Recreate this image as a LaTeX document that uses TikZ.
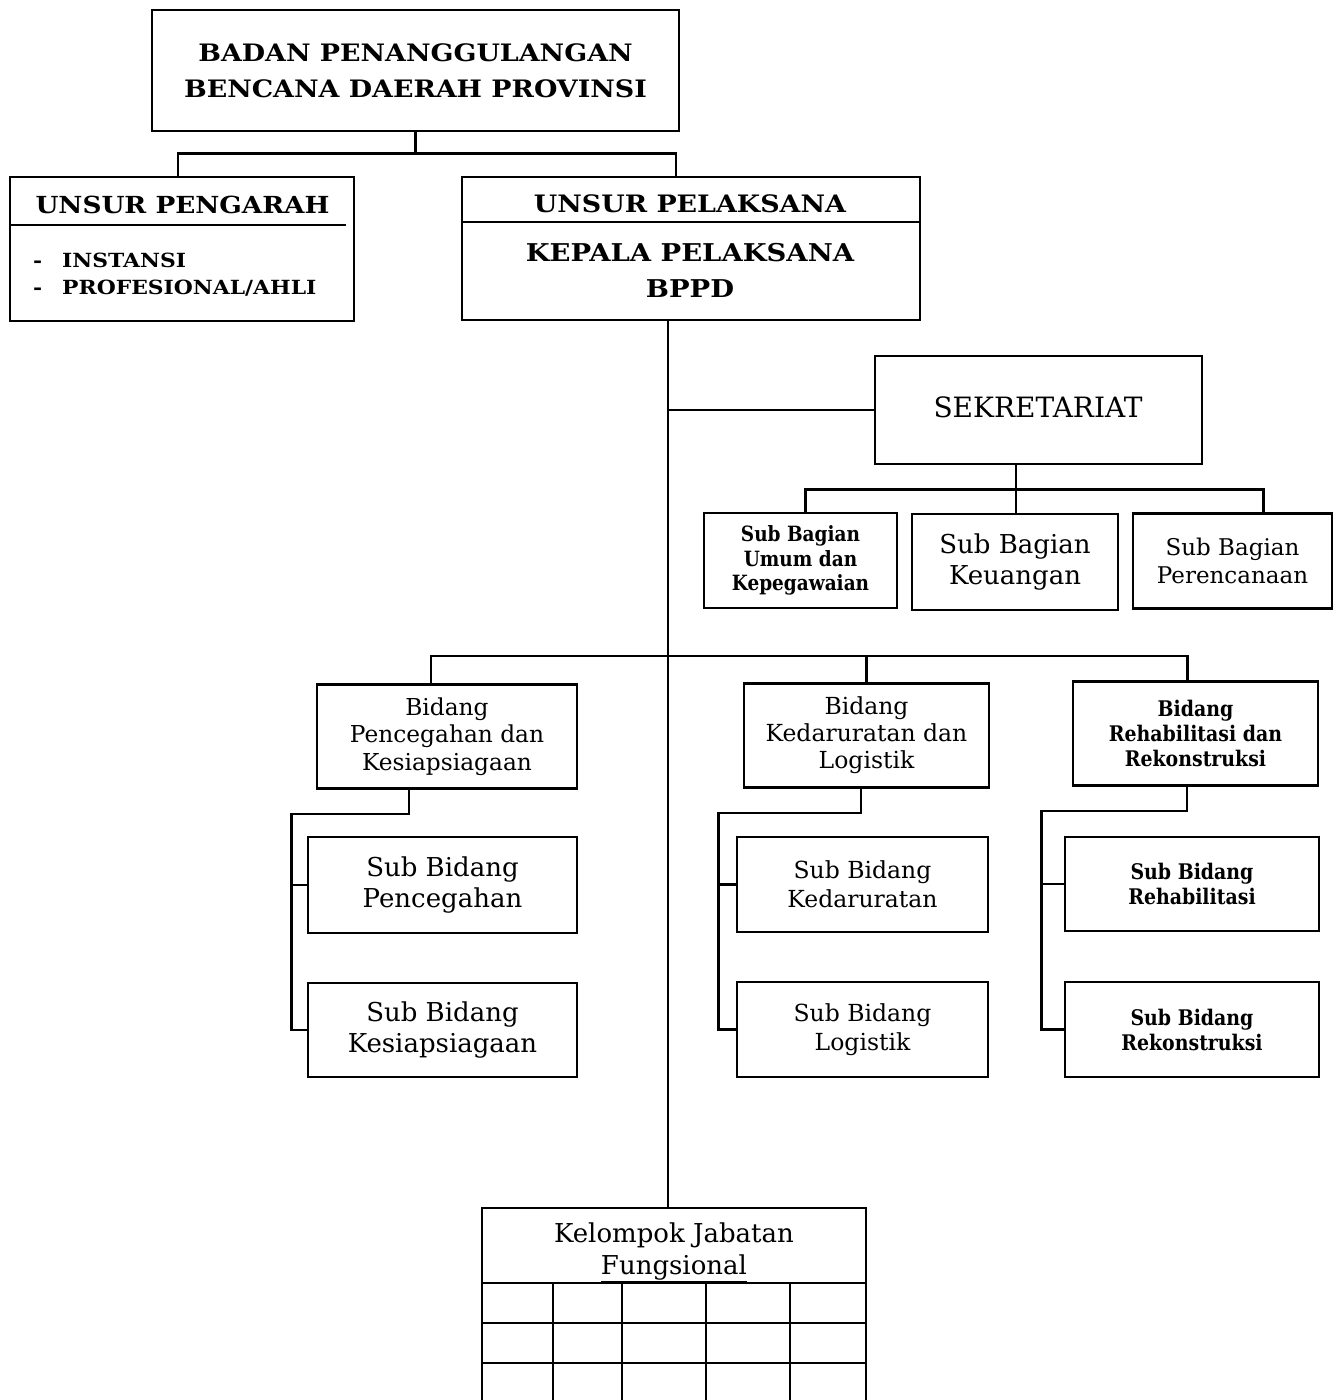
\documentclass[tikz,border=0pt]{standalone}
\usepackage{fontspec}
\setmainfont{DejaVu Serif}
\newfontfamily\condf[FakeStretch=0.88]{DejaVu Serif}
\newfontfamily\widef[FakeStretch=1.12]{DejaVu Serif}
\usetikzlibrary{calc}
\newcommand\fs[2]{\fontsize{#1}{#2}\selectfont}
\begin{document}
\begin{tikzpicture}[x=1pt,y=-1pt,
  box/.style={draw, line width=2.8pt, inner sep=0pt, align=center},
  conn/.style={line width=2.4pt},
  spine/.style={line width=1.6pt},
  txt/.style={inner sep=0pt, align=center},
  grid/.style={line width=2.4pt}
]
\useasboundingbox (0,0) rectangle (1334,1400);
\fill[white] (0,0) rectangle (1334,1400);

% top
\node[box, minimum width=527pt, minimum height=121pt, font={\widef\bfseries\fs{24}{36}}] (top) at (415.5,70.5)
  {BADAN PENANGGULANGAN\\BENCANA DAERAH PROVINSI};

% unsur pengarah
\node[box, minimum width=344pt, minimum height=144pt] (peng) at (182,249) {};
\node[txt, font={\widef\bfseries\fs{23.5}{30}}] (pengT) at (182.5,205) {UNSUR PENGARAH};
\draw[line width=2.8pt] (peng.west |- 0,225) coordinate (pengL) -- ++(337,0) coordinate (pengR);
\node[txt, anchor=west, font={\widef\bfseries\fs{19.5}{24}}] (i1) at (33,260) {\makebox[29pt][l]{-}INSTANSI};
\node[txt, anchor=west, font={\widef\bfseries\fs{19.5}{24}}] (i2) at (33,288) {\makebox[29pt][l]{-}PROFESIONAL/AHLI};

% unsur pelaksana
\node[box, minimum width=458pt, minimum height=143pt] (pel) at (691,248.5) {};
\node[txt, font={\widef\bfseries\fs{24}{30}}] (pelT) at (690,204) {UNSUR PELAKSANA};
\draw[line width=2.8pt] (pel.west |- 0,222) coordinate (pelL) -- (pel.east |- 0,222) coordinate (pelR);
\node[txt, font={\widef\bfseries\fs{24.5}{36}}] (kep) at (690,270) {KEPALA PELAKSANA\\BPPD};

% connectors top
\draw[conn] (top.south) -- ++(0,21) coordinate (j1);
\draw[conn] ([xshift=-4pt]peng.north) |- (j1) -| ([xshift=-15pt]pel.north);

% spine
\coordinate (sp) at ([xshift=-23pt]pel.south);

% kelompok
\node[box, minimum width=384pt, minimum height=75pt] (kel) at (674,1245.5) {};
\node[txt, font={\fs{26}{32}}] (kelT) at (674,1252) {Kelompok Jabatan\\\underline{Fungsional}};
\draw[spine] (sp) -- (sp |- kel.north);

% sekretariat
\node[box, minimum width=327pt, minimum height=108pt] (sek) at (1038.5,410) {};
\node[txt, font={\fs{28}{30}}] (sekT) at (1038,407) {SEKRETARIAT};
\draw[conn] (sek.west) -- (sek.west -| sp);

% sub bagian
\node[box, minimum width=193pt, minimum height=95pt, font={\condf\bfseries\fs{21}{24.5}}] (sb1) at (800.5,560.5)
  {Sub Bagian\\Umum dan\\Kepegawaian};
\node[box, minimum width=206pt, minimum height=96pt, font={\fs{26}{31}}] (sb2) at (1015,562)
  {Sub Bagian\\Keuangan};
\node[box, minimum width=199pt, minimum height=95pt, font={\fs{23}{28}}] (sb3) at (1232.5,561)
  {Sub Bagian\\Perencanaan};
\draw[conn] ([xshift=1pt]sb2.north |- sek.south) coordinate (s0) -- ++(0,24) coordinate (j2);
\draw[conn] ([xshift=5pt]sb1.north) |- (j2) -| ([xshift=31pt]sb3.north);
\draw[conn] (j2) -- (j2 |- sb2.north);

% bidang
\node[box, minimum width=260pt, minimum height=104pt, font={\fs{23.3}{27.5}}] (bd1) at (447,736.5)
  {Bidang\\Pencegahan dan\\Kesiapsiagaan};
\node[box, minimum width=245pt, minimum height=104pt, font={\fs{23.5}{27}}] (bd2) at (866.5,735.5)
  {Bidang\\Kedaruratan dan\\Logistik};
\node[box, minimum width=245pt, minimum height=104pt, font={\condf\bfseries\fs{21.5}{25}}] (bd3) at (1195.5,733.5)
  {Bidang\\Rehabilitasi dan\\Rekonstruksi};
\coordinate (j3) at ($(bd2.north)+(0,-26)$);
\draw[conn] ([xshift=-16pt]bd1.north) |- (j3) -| ([xshift=-8pt]bd3.north);
\draw[conn] (j3) -- (bd2.north);

% sub bidang
\node[box, minimum width=269pt, minimum height=96pt, font={\fs{26}{31}}] (s11) at (442.5,885) {Sub Bidang\\Pencegahan};
\node[box, minimum width=269pt, minimum height=94pt, font={\fs{26}{31}}] (s12) at (442.5,1030) {Sub Bidang\\Kesiapsiagaan};
\node[box, minimum width=251pt, minimum height=95pt, font={\fs{23.5}{29}}] (s21) at (862.5,884.5) {Sub Bidang\\Kedaruratan};
\node[box, minimum width=251pt, minimum height=95pt, font={\fs{23.5}{29}}] (s22) at (862.5,1029.5) {Sub Bidang\\Logistik};
\node[box, minimum width=254pt, minimum height=94pt, font={\condf\bfseries\fs{21.5}{24.5}}] (s31) at (1192,884) {Sub Bidang\\Rehabilitasi};
\node[box, minimum width=254pt, minimum height=95pt, font={\condf\bfseries\fs{21.5}{25}}] (s32) at (1192,1029.5) {Sub Bidang\\Rekonstruksi};

\draw[conn] ([xshift=-38pt]bd1.south) -- ++(0,24) -| ([xshift=-15pt]s12.west) -- (s12.west);
\draw[conn] (s11.west) -- ++(-15,0);
\draw[conn] ([xshift=-5.5pt]bd2.south) -- ++(0,24) -| ([xshift=-17pt]s22.west) -- (s22.west);
\draw[conn] (s21.west) -- ++(-17,0);
\draw[conn] ([xshift=-8.5pt]bd3.south) -- ++(0,24) -| ([xshift=-22pt]s32.west) -- (s32.west);
\draw[conn] (s31.west) -- ++(-22,0);

% grid below kelompok
\foreach \x in {482,553,622,706,790,866} \draw[grid] (\x,1283) -- (\x,1402);
\foreach \y in {1323,1363} \draw[grid] (482,\y) -- (866,\y);
\end{tikzpicture}
\end{document}
